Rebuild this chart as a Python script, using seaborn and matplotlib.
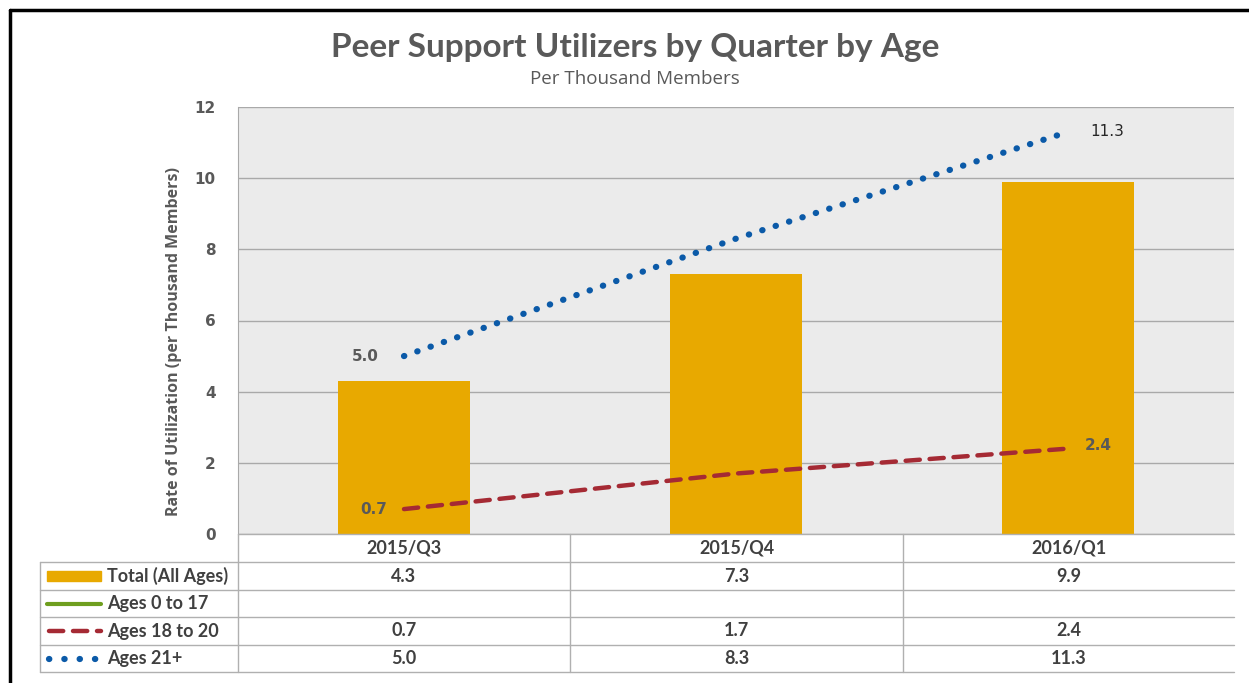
import numpy as np
import pandas as pd
import matplotlib
matplotlib.use("Agg")
import matplotlib.pyplot as plt
from matplotlib.lines import Line2D
from matplotlib.patches import Rectangle
import seaborn as sns

sns.set_style("white")

# data
quarters = ["2015/Q3", "2015/Q4", "2016/Q1"]
total_all = [4.3, 7.3, 9.9]
ages_0_17 = [np.nan, np.nan, np.nan]
ages_18_20 = [0.7, 1.7, 2.4]
ages_21_plus = [5.0, 8.3, 11.3]
series_names = ["Total (All Ages)", "Ages 0 to 17", "Ages 18 to 20", "Ages 21+"]
y_ticks = [0, 2, 4, 6, 8, 10, 12]

C_BAR = "#E8A900"
C_GREEN = "#6E9E1E"
C_RED = "#A52A34"
C_BLUE = "#0B5AA8"
C_TXT = "#595959"
C_GRID = "#A9A9A9"

DASH = (0, (3.2, 2.2))
DOTS = (0, (0.05, 2.2))

W, H = 1249, 683
fig = plt.figure(figsize=(W / 100, H / 100), dpi=100)

def fx(px):
    return px / W

def fy(py):
    return 1 - py / H

# plot area
x0, x1, ytop, ybot = 238, 1234, 107, 534
ax = fig.add_axes([fx(x0), fy(ybot), fx(x1 - x0), (ybot - ytop) / H])
ax.set_facecolor("#EBEBEB")

df = pd.DataFrame({"quarter": quarters, "total": total_all})
sns.barplot(data=df, x="quarter", y="total", color=C_BAR, width=0.4,
            saturation=1, linewidth=0, ax=ax, zorder=3)
xs = np.arange(len(quarters))
ax.plot(xs, ages_0_17, color=C_GREEN, lw=3, zorder=4)
ax.plot(xs, ages_18_20, color=C_RED, lw=3.2, ls=DASH,
        dash_capstyle="round", zorder=4)
ax.plot(xs, ages_21_plus, color=C_BLUE, lw=4.5, ls=DOTS,
        dash_capstyle="round", zorder=4)

ax.set_ylim(0, 12)
ax.set_xlim(-0.5, 2.5)
ax.set_yticks(y_ticks)
ax.set_yticklabels([str(t) for t in y_ticks], fontsize=11, fontweight="bold",
                   color=C_TXT, family="DejaVu Sans")
ax.tick_params(axis="y", length=0, pad=16)
ax.set_xticks([])
ax.set_xlabel("")
ax.set_ylabel("Rate of Utilization (per Thousand Members)", fontsize=11.5,
              fontweight="bold", color=C_TXT, family="Open Sans")
ax.yaxis.set_label_coords((182 - x0) / (x1 - x0), (ybot - 341) / (ybot - ytop))
ax.yaxis.grid(True, color=C_GRID, lw=1, zorder=0)
ax.set_axisbelow(True)
for s in ["top", "right", "bottom"]:
    ax.spines[s].set_visible(False)
ax.spines["left"].set_color(C_GRID)

# data labels
ax.annotate(f"{ages_21_plus[0]:.1f}", (0, ages_21_plus[0]), xytext=(-18, 0),
            textcoords="offset points", ha="right", va="center", fontsize=11,
            fontweight="bold", color=C_TXT, family="DejaVu Sans")
ax.annotate(f"{ages_18_20[0]:.1f}", (0, ages_18_20[0]), xytext=(-12, 0),
            textcoords="offset points", ha="right", va="center", fontsize=11,
            fontweight="bold", color=C_TXT, family="DejaVu Sans")
ax.annotate(f"{ages_18_20[-1]:.1f}", (2, ages_18_20[-1]), xytext=(12, 2),
            textcoords="offset points", ha="left", va="center", fontsize=11,
            fontweight="bold", color=C_TXT, family="DejaVu Sans")
ax.annotate(f"{ages_21_plus[-1]:.1f}", (2, ages_21_plus[-1]), xytext=(16, 0),
            textcoords="offset points", ha="left", va="center", fontsize=11,
            color="#262626", family="DejaVu Sans")

# titles
fig.text(fx(635), fy(48), "Peer Support Utilizers by Quarter by Age",
         ha="center", va="center", fontsize=24, fontweight="bold",
         color=C_TXT, family="Lato")
fig.text(fx(635), fy(79), "Per Thousand Members", ha="center", va="center",
         fontsize=13.5, color=C_TXT, family="Open Sans")

# data table below the axis
tab_lc = "#B0B0B0"
col_edges = [238, 570, 903, 1234]
row_edges = [534, 562, 590, 617, 645, 672]
def hline(y, xa, xb):
    fig.add_artist(Line2D([fx(xa), fx(xb)], [fy(y), fy(y)], color=tab_lc, lw=1))
def vline(x, ya, yb):
    fig.add_artist(Line2D([fx(x), fx(x)], [fy(ya), fy(yb)], color=tab_lc, lw=1))

hline(row_edges[0], 238, 1234)
for y in row_edges[1:]:
    hline(y, 40, 1234)
vline(40, 562, 672)
for x in col_edges[:-1]:
    vline(x, 534, 672)

tfont = dict(family="Lato", fontsize=13, color="#404040")
centers = [(a + b) / 2 for a, b in zip(col_edges[:-1], col_edges[1:])]
for q, cx in zip(quarters, centers):
    fig.text(fx(cx), fy(548), q, ha="center", va="center", fontweight="bold", **tfont)

rows = [total_all, ages_0_17, ages_18_20, ages_21_plus]
for i, (name, vals) in enumerate(zip(series_names, rows)):
    cy = (row_edges[i + 1] + row_edges[i + 2]) / 2
    fig.text(fx(107), fy(cy), name, ha="left", va="center", fontweight="bold", **tfont)
    for v, cx in zip(vals, centers):
        if not np.isnan(v):
            fig.text(fx(cx), fy(cy), f"{v:.1f}", ha="center", va="center",
                     fontweight="bold", **tfont)

# legend keys in the table
ky = [(row_edges[i + 1] + row_edges[i + 2]) / 2 for i in range(4)]
fig.add_artist(Rectangle((fx(47), fy(ky[0] + 5)), fx(54), 10 / H, color=C_BAR))
fig.add_artist(Line2D([fx(47), fx(101)], [fy(ky[1])] * 2, color=C_GREEN, lw=3))
fig.add_artist(Line2D([fx(49), fx(101)], [fy(ky[2])] * 2, color=C_RED, lw=3.2,
                      ls=DASH, dash_capstyle="round"))
fig.add_artist(Line2D([fx(49), fx(96)], [fy(ky[3])] * 2, color=C_BLUE, lw=4.5,
                      ls=(0, (0.05, 2.4)), dash_capstyle="round"))

# outer frame (left and top)
fig.add_artist(Line2D([fx(10), fx(10)], [fy(10), 0], color="black", lw=2.5))
fig.add_artist(Line2D([fx(10), 1], [fy(10), fy(10)], color="black", lw=2.5))

fig.savefig("out.png", dpi=100)
